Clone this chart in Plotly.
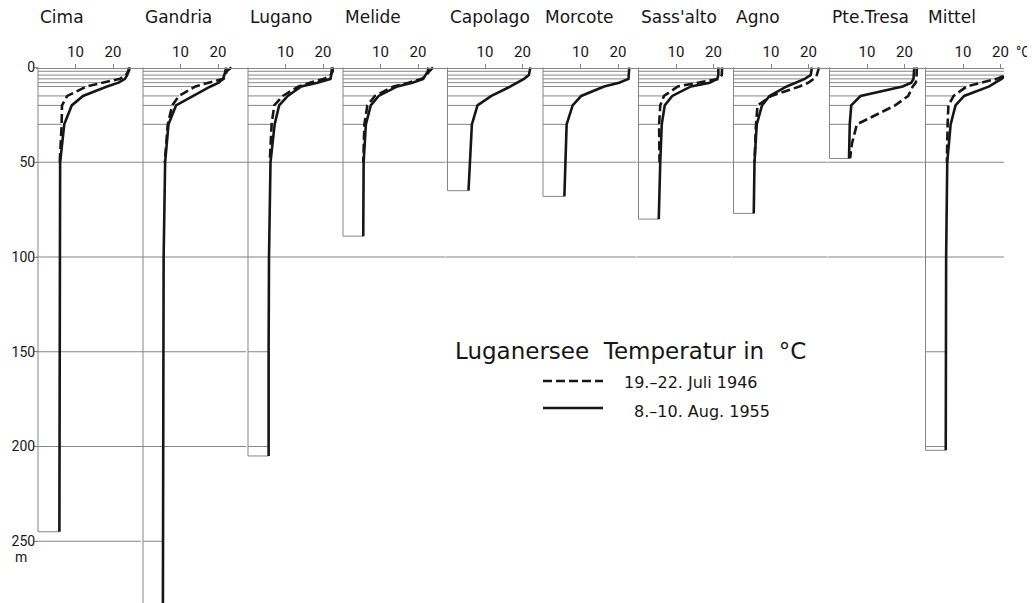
import numpy as np
import plotly.graph_objects as go

# ---------------- data ----------------
STATIONS = ["Cima", "Gandria", "Lugano", "Melide", "Capolago", "Morcote",
            "Sass'alto", "Agno", "Pte.Tresa", "Mittel"]

# depth of each reading (m); the last entry is the bottom of the station
CIMA_DEPTH = [0, 2, 4, 6, 8, 10, 15, 20, 30, 50, 100, 150, 200, 245]
CIMA_AUG55 = [24.3, 24.1, 23.8, 23.2, 21.5, 18.4, 12.0, 9.0, 7.0, 5.9, 5.8, 5.8, 5.7, 5.7]
CIMA_JUL46 = [24.5, 24.2, 23.4, 21.9, 17.2, 13.0, 7.8, 6.4, 6.3, 5.8]

GANDRIA_DEPTH = [0, 2, 4, 6, 8, 10, 15, 20, 30, 50, 100, 150, 200, 250, 288]
GANDRIA_AUG55 = [22.2, 22.0, 21.7, 21.3, 20.2, 18.0, 13.5, 8.8, 6.8, 5.9, 5.5, 5.4, 5.4, 5.3, 5.3]
GANDRIA_JUL46 = [23.6, 22.3, 22.0, 21.5, 17.5, 14.0, 9.6, 7.8, 6.6, 5.8]

LUGANO_DEPTH = [0, 2, 4, 6, 8, 10, 15, 20, 30, 50, 100, 150, 205]
LUGANO_AUG55 = [22.4, 22.4, 22.2, 22.0, 18.5, 14.2, 10.6, 8.3, 7.1, 6.0, 5.6, 5.5, 5.5]
LUGANO_JUL46 = [22.6, 22.6, 22.0, 20.3, 16.5, 13.5, 9.3, 7.0, 6.3, 5.8]

MELIDE_DEPTH = [0, 2, 4, 6, 8, 10, 15, 20, 30, 50, 89]
MELIDE_AUG55 = [22.8, 22.6, 22.0, 21.4, 18.5, 14.5, 9.5, 7.4, 6.1, 5.5, 5.4]
MELIDE_JUL46 = [24.0, 23.0, 22.3, 21.0, 17.5, 13.5, 8.5, 6.5, 5.7, 5.4]

CAPOLAGO_DEPTH = [0, 2, 4, 6, 8, 10, 15, 20, 30, 50, 65]
CAPOLAGO_AUG55 = [22.1, 22.0, 21.7, 20.4, 18.6, 16.8, 11.7, 8.0, 6.5, 6.0, 5.6]
CAPOLAGO_JUL46 = []

MORCOTE_DEPTH = [0, 2, 4, 6, 8, 10, 15, 20, 30, 50, 68]
MORCOTE_AUG55 = [23.0, 23.0, 23.0, 22.8, 20.3, 16.3, 10.2, 7.9, 6.3, 6.0, 5.7]
MORCOTE_JUL46 = []

SASSALTO_DEPTH = [0, 2, 4, 6, 8, 10, 15, 20, 30, 50, 80]
SASSALTO_AUG55 = [21.3, 21.3, 21.3, 21.0, 19.0, 14.0, 9.0, 7.0, 6.2, 5.8, 5.4]
SASSALTO_JUL46 = [22.3, 22.3, 22.2, 21.5, 16.0, 10.5, 6.8, 5.8, 5.5, 5.6]

AGNO_DEPTH = [0, 2, 4, 6, 8, 10, 15, 20, 30, 50, 77]
AGNO_AUG55 = [20.9, 20.8, 20.6, 19.0, 16.6, 14.2, 9.6, 7.6, 6.2, 5.6, 5.4]
AGNO_JUL46 = [22.8, 22.5, 22.2, 21.4, 20.0, 17.6, 10.1, 6.4, 6.0, 5.6]

PTETRESA_DEPTH = [0, 2, 4, 6, 8, 10, 15, 20, 30, 40, 48]
PTETRESA_AUG55 = [22.6, 22.6, 22.6, 22.4, 21.8, 19.5, 8.3, 5.8, 5.4, 5.3, 5.2]
PTETRESA_JUL46 = [23.3, 23.3, 23.3, 23.2, 23.0, 22.2, 21.0, 17.5, 7.3, 6.0, 5.5]

MITTEL_DEPTH = [0, 2, 4, 6, 8, 10, 15, 20, 30, 50, 100, 150, 202]
MITTEL_AUG55 = [22.3, 22.5, 21.5, 20.3, 18.6, 17.0, 10.3, 8.0, 6.7, 5.8, 5.5, 5.5, 5.4]
MITTEL_JUL46 = [23.2, 22.0, 21.3, 19.0, 15.0, 11.0, 7.5, 6.1, 5.9, 5.7]

DEPTHS = [CIMA_DEPTH, GANDRIA_DEPTH, LUGANO_DEPTH, MELIDE_DEPTH, CAPOLAGO_DEPTH,
          MORCOTE_DEPTH, SASSALTO_DEPTH, AGNO_DEPTH, PTETRESA_DEPTH, MITTEL_DEPTH]
AUG55 = [CIMA_AUG55, GANDRIA_AUG55, LUGANO_AUG55, MELIDE_AUG55, CAPOLAGO_AUG55,
         MORCOTE_AUG55, SASSALTO_AUG55, AGNO_AUG55, PTETRESA_AUG55, MITTEL_AUG55]
JUL46 = [CIMA_JUL46, GANDRIA_JUL46, LUGANO_JUL46, MELIDE_JUL46, CAPOLAGO_JUL46,
         MORCOTE_JUL46, SASSALTO_JUL46, AGNO_JUL46, PTETRESA_JUL46, MITTEL_JUL46]

TEMP_TICKS = [10, 20]
DEPTH_TICKS = [0, 50, 100, 150, 200, 250]
FINE_DEPTHS = [2, 4, 6, 8, 10, 15, 20, 30]
GRID_FULL = [50, 100]
GRID_PARTIAL = [150, 200, 250]

TITLE = "Luganersee\u00a0\u00a0Temperatur in\u00a0\u00a0°C"
LABEL_JUL46 = "19.–22. Juli 1946"
LABEL_AUG55 = "8.–10. Aug. 1955"

# ---------------- layout geometry (window pixels) ----------------
W, H = 1035, 603
PAGE_OFFSET = 8          # default body margin of the html page
PANEL_LEFT_PX = [38, 143, 248, 343, 447.5, 543, 638.5, 733.5, 829.5, 925.5]
PANEL_END_PX = 1006
PX_PER_DEG = 3.75
Y0_PX = 67.5
PX_PER_M = 1.895
TOP_PAD_M = 2.0
EDGE_PAD_PX = 2.0

INK = "#161616"
GRID = "#858585"
FONT = "DejaVu Sans"
NUM_FONT = "Roboto"


def px_x(px):
    return (px - PAGE_OFFSET) / W


def px_y(py):
    return 1 - (py - PAGE_OFFSET) / H


rights = PANEL_LEFT_PX[1:] + [PANEL_END_PX]
bottom_view = (H + PAGE_OFFSET - Y0_PX) / PX_PER_M
bottoms = [d[-1] for d in DEPTHS]
n = len(STATIONS)

fig = go.Figure()
layout = dict(
    width=W, height=H, margin=dict(l=0, r=0, t=0, b=0, pad=0, autoexpand=False),
    autosize=False,
    paper_bgcolor="white", plot_bgcolor="rgba(0,0,0,0)", showlegend=False,
    font=dict(family=FONT, color=INK),
)

annotations = []
for i in range(n):
    sfx = "" if i == 0 else str(i + 1)
    xname = "x" + sfx
    depth = np.array(DEPTHS[i], dtype=float)
    aug = np.array(AUG55[i], dtype=float)
    jul = np.array(JUL46[i], dtype=float)
    pad = EDGE_PAD_PX / PX_PER_DEG
    wpx = rights[i] - PANEL_LEFT_PX[i]
    wdeg = wpx / PX_PER_DEG
    xmin, xmax = -pad, wdeg - pad

    layout["xaxis" + sfx] = dict(
        domain=[px_x(PANEL_LEFT_PX[i] - EDGE_PAD_PX), px_x(rights[i] - EDGE_PAD_PX)],
        range=[xmin, xmax], side="top", anchor="free", position=px_y(Y0_PX),
        tickvals=TEMP_TICKS, ticks="outside", ticklen=4, tickcolor=GRID,
        ticklabelstandoff=1,
        tickfont=dict(size=15, family=NUM_FONT, color=INK),
        showline=True, linecolor=GRID, linewidth=1, automargin=False,
        showgrid=False, zeroline=False, fixedrange=True,
    )

    def temp_at(d):
        return float(np.interp(d, depth, aug))

    # frame: left wall, bottom, level lines
    xs, ys = [0, 0, aug[-1]], [0, depth[-1], depth[-1]]
    xs.append(None); ys.append(None)
    for d in FINE_DEPTHS:
        if d <= depth[-1]:
            t = temp_at(d)
            if len(jul) and d <= depth[len(jul) - 1]:
                t = min(t, float(np.interp(d, depth[:len(jul)], jul)))
            xs += [0, t, None]; ys += [d, d, None]
    for d in GRID_FULL:
        xs += [xmin, xmax, None]; ys += [d, d, None]
    for d in GRID_PARTIAL:
        if bottoms[i] >= d - 10:
            full = i + 1 < n and bottoms[i + 1] >= d - 10
            if full:
                xs += [xmin, xmax, None]
            else:
                xs += [0, temp_at(min(d, depth[-1])), None]
            ys += [d, d, None]
    fig.add_trace(go.Scatter(x=xs, y=ys, xaxis=xname, yaxis="y", mode="lines",
                             line=dict(color=GRID, width=1), hoverinfo="skip"))

    # profiles
    if len(jul):
        fig.add_trace(go.Scatter(x=jul, y=depth[:len(jul)], xaxis=xname, yaxis="y",
                                 mode="lines", name=LABEL_JUL46,
                                 line=dict(color=INK, width=2.6, dash="9px,4px")))
    fig.add_trace(go.Scatter(x=aug, y=depth, xaxis=xname, yaxis="y", mode="lines",
                             name=LABEL_AUG55, line=dict(color=INK, width=2.6)))

    annotations.append(dict(text=STATIONS[i], xref=xname + " domain", yref="paper",
                            x=EDGE_PAD_PX / wpx, y=px_y(17),
                            xanchor="left", yanchor="middle", showarrow=False,
                            font=dict(size=17, family=FONT, color=INK)))

layout["yaxis"] = dict(
    domain=[0, px_y(Y0_PX - TOP_PAD_M * PX_PER_M)],
    range=[bottom_view, -TOP_PAD_M], anchor="free", position=px_x(PANEL_LEFT_PX[0]),
    tickvals=DEPTH_TICKS, ticktext=[str(v) for v in DEPTH_TICKS],
    ticks="outside", ticklen=4, tickcolor=GRID, automargin=False,
    ticklabelstandoff=-4,
    tickfont=dict(size=14, family=NUM_FONT, color=INK),
    showgrid=False, zeroline=False, showline=False, fixedrange=True,
)

# unit labels
annotations.append(dict(text="°C", xref="paper", yref="paper", x=px_x(1014), y=px_y(52),
                        xanchor="left", yanchor="middle", showarrow=False,
                        font=dict(size=14, family=NUM_FONT, color=INK)))
annotations.append(dict(text="m", xref="paper", yref="paper", x=px_x(21), y=px_y(557),
                        xanchor="center", yanchor="middle", showarrow=False,
                        font=dict(size=14, family=NUM_FONT, color=INK)))

# title + key
annotations.append(dict(text=TITLE, xref="paper", yref="paper", x=px_x(453), y=px_y(351),
                        xanchor="left", yanchor="middle", showarrow=False,
                        font=dict(size=23, family=FONT, color=INK)))
annotations.append(dict(text=LABEL_JUL46, xref="paper", yref="paper", x=px_x(622), y=px_y(383),
                        xanchor="left", yanchor="middle", showarrow=False,
                        font=dict(size=16, family=FONT, color=INK)))
annotations.append(dict(text=LABEL_AUG55, xref="paper", yref="paper", x=px_x(632), y=px_y(411),
                        xanchor="left", yanchor="middle", showarrow=False,
                        font=dict(size=16, family=FONT, color=INK)))
shapes = [
    dict(type="line", xref="paper", yref="paper", x0=px_x(543), x1=px_x(603),
         y0=px_y(381), y1=px_y(381), line=dict(color=INK, width=2.6, dash="9px,4px")),
    dict(type="line", xref="paper", yref="paper", x0=px_x(543), x1=px_x(603),
         y0=px_y(408), y1=px_y(408), line=dict(color=INK, width=2.6)),
]

layout["annotations"] = annotations
layout["shapes"] = shapes
fig.update_layout(**layout)
fig.write_html("out.html")
